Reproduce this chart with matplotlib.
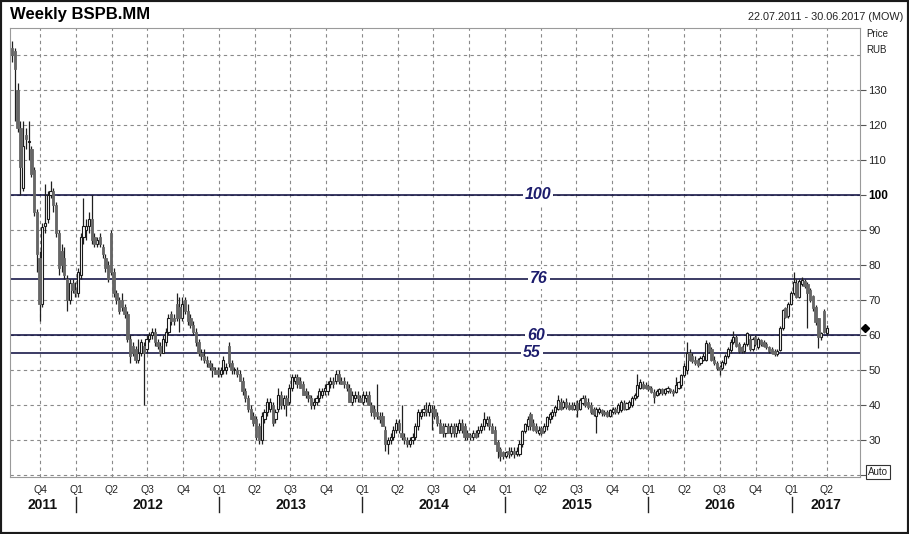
import numpy as np
import pandas as pd
import matplotlib
matplotlib.use("Agg")
import matplotlib.pyplot as plt
import matplotlib.dates as mdates
import matplotlib.transforms as mtrans
from matplotlib.patches import Rectangle

plt.rcParams['font.family'] = ['Liberation Sans', 'DejaVu Sans']

# ---------------- data (weekly OHLC, RUB) ----------------
start_date = "2011-07-22"
ohlc_rows = [
    (142,144,138,140),(141,142,121,136),(130,132,118,119),(119,121,100,108),(102,121,101,114),
    (117,119,113,116),(115,121,110,115),(113,114,105,106),(107,108,94,95),(95,96,78,83),
    (82,84,64,69),(69,92,68,91),(91,103,89,92),(93,101,92,100),(100,104,99,101),
    (101,102,95,97),(97,98,88,89),(89,90,77,79),(84,86,78,80),(82,85,76,77),
    (76,77,67,70),(70,76,69,75),(75,76,72,73),(73,75,71,72),(72,79,71,78),
    (77,89,76,88),(88,99,86,91),(90,93,87,91),(91,95,89,93),(93,100,86,87),
    (88,89,85,86),(86,88,85,87),(88,89,85,86),(85,86,82,83),(82,83,78,79),
    (80,81,75,76),(89,90,77,78),(78,79,71,72),(72,73,69,70),(70,71,66,67),
    (70,72,67,68),(68,69,65,66),(66,67,58,59),(59,60,52,54),(57,58,54,55),
    (56,57,52,53),(53,59,52,55),(55,59,54,58),(57,58,40,55),(56,60,55,59),
    (59,61,58,60),(60,62,59,61),(61,62,57,58),(58,59,56,57),(57,58,54,55),
    (55,60,55,59),(58,62,57,61),(61,66,60,65),(66,67,63,64),(65,66,63,64),
    (69,72,64,65),(68,71,61,65),(65,71,64,69),(70,71,66,67),(67,69,63,64),
    (65,66,62,63),(63,64,60,61),(61,62,57,58),(58,59,54,55),(55,56,53,54),
    (54,56,52,53),(53,54,51,52),(52,53,50,51),(51,52,48,50),(50,51,49,49),
    (50,51,48,49),(49,51,48,50),(50,54,49,53),(50,52,49,51),(57,58,51,52),
    (52,53,49,50),(50,51,49,50),(50,51,48,49),(49,50,47,47),(47,48,43,44),
    (44,45,41,42),(42,43,38,39),(39,40,36,36),(37,38,34,35),(36,37,30,31),
    (34,35,29,30),(30,38,29,37),(36,39,35,38),(38,42,37,41),(39,42,38,41),
    (40,41,34,35),(36,39,35,38),(39,45,38,43),(43,44,39,40),(40,43,39,42),
    (42,43,37,40),(41,46,40,45),(45,49,44,48),(47,49,46,48),(48,49,45,46),
    (47,48,45,45),(46,47,43,43),(44,45,42,43),(43,44,41,42),(42,43,39,40),
    (40,42,39,41),(41,43,40,42),(42,45,41,44),(43,45,42,44),(44,46,43,45),
    (44,47,43,46),(46,48,45,47),(47,48,45,46),(47,50,46,49),(49,50,46,47),
    (47,48,46,46),(47,48,45,46),(46,47,44,45),(45,46,41,41),(41,44,40,43),
    (42,44,41,43),(43,44,41,42),(42,43,41,41),(41,44,40,43),(42,44,41,43),
    (43,44,40,40),(40,41,37,38),(39,40,36,37),(38,46,36,37),(37,38,35,36),
    (37,38,34,34),(33,34,27,29),(29,31,26,30),(30,32,29,31),(31,34,30,33),
    (33,36,32,35),(35,36,32,33),(32,40,30,31),(31,32,29,30),(30,31,28,29),
    (29,31,28,30),(30,32,29,31),(31,35,30,34),(34,39,33,38),(37,39,36,38),
    (38,40,37,39),(39,41,37,38),(38,41,37,40),(39,40,33,38),(39,40,36,37),
    (37,38,34,35),(35,36,32,32),(34,35,31,32),(32,35,31,34),(34,35,32,32),
    (32,35,31,34),(34,35,31,32),(32,35,31,34),(33,36,32,35),(35,36,32,33),
    (34,35,30,31),(32,33,30,31),(31.5,32,30,31),(31,33,30,32),(32,33,30.5,31),
    (32,34,31,33),(33,35,32,34),(34,38,33,36),(35,37,34,36),(36,37,33,34),
    (34,35,32,32),(33,34,29,29),(29.5,30,25,27),(27.5,28,24,25.5),(26.5,27,24.5,25.5),
    (25.5,27,25,26.5),(27,28,25,26),(26,28,25.5,27),(27,28,25,26),(26,28,25.5,27),
    (26,30,25.5,29),(29,33,28,32.5),(32.5,35,32,34.5),(34,37,33,36),(37.5,38,33,34),
    (35,36,32.5,33),(34,35,32,32.5),(32,34,31.5,33),(33.5,34,31.5,32),(32.5,35,32,34),
    (34,37,33,36.5),(36,38,35,37.5),(37,39,36,38),(38,40,37,39.5),(39,43,38.5,41.5),
    (41,42,38.5,39),(39.5,41.5,39,41),(41,42,39,39.5),(40,41,38.5,39),(40,41,38.5,39),
    (39,41,38.5,40),(40.5,41.5,36.5,38.5),(39,42,38.5,41.5),(40.5,43,40,42),(42,43,39.5,40),
    (41,42,39,39.5),(40,41,37.5,38),(39,39.5,37,37.5),(37,39.5,32,39),(38,39.5,37.5,39),
    (38.5,39,37,37.6),(38,38.5,37,37.5),(38,38.5,36.5,37),(37,39,36.5,38.5),(38,39.5,37.5,39),
    (39,39.5,37.5,38),(38,40.5,37.5,40),(38.5,41.5,38,41),(40.5,41.5,38.5,39),(39,41,38.5,40.5),
    (39.5,41.5,39,41),(40,42.5,39.5,42),(42,43.5,41.5,43),(42.5,49,42,45.7),(45,47.5,44.5,46.7),
    (46,47,44.5,45),(45.7,46.5,44.5,44.8),(45.5,46,44,44.5),(45,45.5,43.5,43.8),(43.8,44.5,40.5,42.4),
    (43,44.5,42.5,44),(43.5,45,43,44.5),(44.5,45,43,43.5),(43.5,45,43,44.5),(44,45.5,43.5,45),
    (44.5,45,43.5,44),(44,44.5,42.5,43.5),(43.8,48,43.5,45.7),(45,47,44.5,46.5),(45.7,49,45,48.6),
    (48.6,52,48,51),(50,58,49,55),(55,56,52.5,53),(54,55,52,52.5),(53,54,51.5,52),
    (53,53.5,51,51.5),(52,54,51.5,53.5),(53,55,52.5,54),(53,58.5,52.5,57.6),(57.3,58,55,55.4),
    (56,56.5,52.5,53),(53,54,51.5,52),(52,52.5,50,50.5),(51,51.5,48.5,50),(50.5,53,50,52.4),
    (52,54.5,51.5,54),(54,56.5,53.5,56),(55.7,59,55,58),(58,61.2,57.5,59.5),(59.5,60,56.5,57),
    (57.5,58,55,55.5),(56.5,57,55,55.5),(55.5,58,55,57.4),(57.4,61,57,60.5),(59,60,55.5,56),
    (56,59.5,55.5,59),(59.5,60,57,57.5),(56.5,59.5,56,59),(58.5,59,57,57.5),(58,58.5,56.5,57),
    (57.5,58,56,56.5),(56.5,57,55,55.5),(56,56.5,54.5,55),(55.4,56,54,54.5),(54.5,56,54,55.5),
    (55.7,62.5,55.5,61.9),(61.9,67.5,61.5,67.1),(67.6,68,65,65.2),(65.5,69.5,65,69),(69,72.5,68.5,72),
    (72,78,71.5,75.2),(74.8,76,70.5,71),(71,76,70.5,75.5),(74.5,76.5,74,75.7),(75.5,76,73.5,74),
    (74.5,75,62,72),(73,73.5,69.5,70),(71,71.5,67,67.6),(68,68.5,63,63.8),(64.8,65,56.2,59.5),
    (59.5,61,58.5,60.5),(67,67.5,60.5,61),(60.5,63,60,62),
]
opens  = [r[0] for r in ohlc_rows]
highs  = [r[1] for r in ohlc_rows]
lows   = [r[2] for r in ohlc_rows]
closes = [r[3] for r in ohlc_rows]
dates = pd.date_range(start_date, periods=len(ohlc_rows), freq="W-FRI")

levels = [100, 76, 60, 55]
last_price = 62
y_ticks = [30, 40, 50, 60, 70, 80, 90, 100, 110, 120, 130]
years = [2011, 2012, 2013, 2014, 2015, 2016, 2017]

# ---------------- figure ----------------
W, H = 909, 534
fig = plt.figure(figsize=(W / 100, H / 100), dpi=100)
L, R, T, B = 10, 860, 28, 477
ax = fig.add_axes([L / W, 1 - B / H, (R - L) / W, (B - T) / H])

x = mdates.date2num(dates)
o = np.array(opens, float); h = np.array(highs, float)
l = np.array(lows, float); c = np.array(closes, float)
up = c >= o

# grid
q_starts = pd.date_range("2011-10-01", "2017-04-01", freq="QS")
for d in q_starts:
    ax.axvline(mdates.date2num(d), color="#8a8a8a", lw=0.8, ls=(0, (3, 3)), zorder=0)
for v in range(20, 150, 10):
    ax.axhline(v, color="#8a8a8a", lw=0.8, ls=(0, (3, 3)), zorder=0)

# level lines
for lv in levels:
    ax.axhline(lv, color="#06063a", lw=1.1, zorder=1)

# candles
ax.vlines(x, l, h, color="#202020", lw=0.9, zorder=2)
body_h = np.maximum(np.abs(c - o), 0.3)
body_b = np.minimum(o, c)
ax.bar(x[up], body_h[up], bottom=body_b[up], width=5.5, color="white",
       edgecolor="#1a1a1a", linewidth=0.8, zorder=3)
ax.bar(x[~up], body_h[~up], bottom=body_b[~up], width=6.0, color="#666666",
       edgecolor="#666666", linewidth=0.6, zorder=3)

# limits
x_q4 = mdates.date2num(pd.Timestamp("2011-10-01"))
x_q2 = mdates.date2num(pd.Timestamp("2017-04-01"))
ppd = (827 - 40) / (x_q2 - x_q4)
ax.set_xlim(x_q4 - (40 - L) / ppd, x_q2 + (R - 827) / ppd)
ax.set_ylim(100 - (B - 195) / 3.5, 100 - (T - 195) / 3.5)

# level labels
lt = mtrans.blended_transform_factory(ax.transAxes, ax.transData)
for lv, xp in zip(levels, [538, 539, 536, 532]):
    ax.text((xp - L) / (R - L), lv, str(lv), transform=lt,
            ha="center", va="center", fontsize=11.5, fontweight="bold", fontstyle="italic",
            color="#1c1c6c", bbox=dict(facecolor="white", edgecolor="none", pad=1.5), zorder=4)

# axes styling
for s in ax.spines.values():
    s.set_color("#9a9a9a"); s.set_linewidth(0.8)
ax.set_xticks([])
ax.yaxis.tick_right()
ax.set_yticks(y_ticks + [20])
ax.set_yticklabels([str(v) for v in y_ticks] + [""])
ax.tick_params(axis="y", length=4, width=0.8, color="#555555", pad=2, labelsize=8, labelcolor="#222222")
for lab in ax.get_yticklabels():
    if lab.get_text() == "100":
        lab.set_fontweight("bold"); lab.set_color("black"); lab.set_fontsize(8.5)

# last price marker
ax.plot([(865 - L) / (R - L)], [last_price], marker="D", ms=4, color="black",
        transform=lt, clip_on=False)

# bottom axis labels
bt = mtrans.blended_transform_factory(ax.transData, fig.transFigure)
for d in q_starts:
    ax.text(mdates.date2num(d), 1 - 490 / H, f"Q{(d.month - 1) // 3 + 1}", transform=bt,
            ha="center", va="center", fontsize=7.5, color="#222222")
x_lo, x_hi = ax.get_xlim()
for yr in years:
    a = max(mdates.date2num(pd.Timestamp(f"{yr}-01-01")), x_lo)
    b = min(mdates.date2num(pd.Timestamp(f"{yr + 1}-01-01")), x_hi)
    ax.text((a + b) / 2, 1 - 505 / H, str(yr), transform=bt, ha="center", va="center",
            fontsize=10, fontweight="bold", color="#111111")
    if yr > 2011:
        ax.plot([mdates.date2num(pd.Timestamp(f"{yr}-01-01"))] * 2, [1 - 497 / H, 1 - 512 / H],
                transform=bt, color="#222222", lw=1.0, clip_on=False)

# header texts
fig.text(10 / W, 1 - 15 / H, "Weekly BSPB.MM", fontsize=12, fontweight="bold", va="center", ha="left")
fig.text(903 / W, 1 - 17 / H, "22.07.2011 - 30.06.2017 (MOW)", fontsize=7.8, va="center", ha="right", color="#222222")
fig.text(866 / W, 1 - 34 / H, "Price", fontsize=7, va="center", ha="left", color="#222222")
fig.text(866 / W, 1 - 50 / H, "RUB", fontsize=7, va="center", ha="left", color="#222222")
fig.text(868 / W, 1 - 472 / H, "Auto", fontsize=7, va="center", ha="left", color="#222222",
         bbox=dict(facecolor="white", edgecolor="#333333", pad=1.2, linewidth=0.8))

# outer frame
fig.add_artist(Rectangle((0, 0), 1, 1, transform=fig.transFigure, fill=False, ec="#1a1a1a", lw=3))

fig.savefig("out.png", dpi=100, facecolor="white")
